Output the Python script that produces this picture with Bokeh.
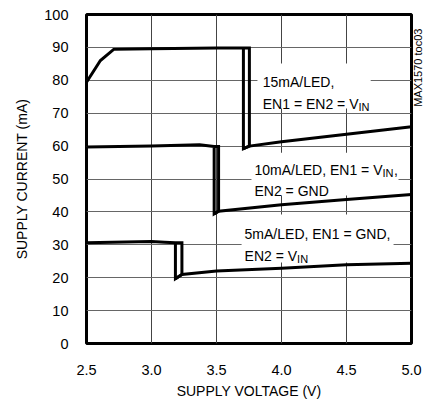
import math
from bokeh.plotting import figure
from bokeh.models import Range1d, FixedTicker, Label, LinearAxis
from bokeh.embed import file_html
from bokeh.resources import INLINE

FONT = "Liberation Sans"

# ---- data ----
x_ticks = [2.5, 3.0, 3.5, 4.0, 4.5, 5.0]
x_tick_labels = ["2.5", "3.0", "3.5", "4.0", "4.5", "5.0"]
y_ticks = [0, 10, 20, 30, 40, 50, 60, 70, 80, 90, 100]

# 15mA/LED
v15_up = [2.5, 2.607, 2.709, 3.0, 3.5, 3.707, 3.753]
i15_up = [79.4, 86.0, 89.4, 89.6, 89.8, 89.8, 89.8]
v15_lo = [3.707, 3.753, 4.0, 4.5, 5.0]
i15_lo = [59.2, 60.0, 61.3, 63.6, 65.9]

# 10mA/LED
v10_up = [2.5, 3.0, 3.37, 3.482, 3.516]
i10_up = [59.7, 60.0, 60.4, 59.9, 59.9]
v10_lo = [3.482, 3.516, 4.0, 4.5, 5.0]
i10_lo = [39.4, 40.2, 42.2, 43.8, 45.3]

# 5mA/LED
v5_up = [2.5, 3.0, 3.1, 3.184, 3.234]
i5_up = [30.6, 31.0, 30.8, 30.6, 30.6]
v5_lo = [3.184, 3.234, 3.5, 4.0, 4.5, 5.0]
i5_lo = [19.7, 21.0, 22.0, 22.9, 23.9, 24.4]

curves = [(v15_up, i15_up, v15_lo, i15_lo),
          (v10_up, i10_up, v10_lo, i10_lo),
          (v5_up, i5_up, v5_lo, i5_lo)]

p = figure(width=433, height=405, output_backend="svg", toolbar_location=None,
           x_range=Range1d(2.5, 5.0), y_range=Range1d(0, 100),
           min_border_left=86, min_border_right=20, min_border_top=14, min_border_bottom=62)
p.background_fill_color = "white"
p.border_fill_color = "white"
p.outline_line_color = "black"
p.outline_line_width = 3

for ax in (p.xaxis[0], p.yaxis[0]):
    ax.axis_line_color = None
    ax.major_tick_line_color = None
    ax.minor_tick_line_color = None
    ax.major_tick_in = 0
    ax.major_tick_out = 0
    ax.major_label_text_font = FONT
    ax.major_label_text_font_size = "14.5px"
    ax.major_label_text_color = "black"
    ax.axis_label_text_font = FONT
    ax.axis_label_text_font_size = "14px"
    ax.axis_label_text_font_style = "normal"
    ax.axis_label_text_color = "black"

p.xaxis.ticker = FixedTicker(ticks=x_ticks)
p.xaxis.major_label_overrides = {t: s for t, s in zip(x_ticks, x_tick_labels)}
p.yaxis.ticker = FixedTicker(ticks=y_ticks)
p.xaxis.axis_label = "SUPPLY VOLTAGE (V)"
p.yaxis.axis_label = "SUPPLY CURRENT (mA)"
p.xaxis.major_label_standoff = 21
p.yaxis.major_label_standoff = 18
p.xaxis.axis_label_standoff = 5
p.yaxis.axis_label_standoff = 11

# figure id text on the right side (as a rotated tick label of a bare axis)
rax = LinearAxis(ticker=FixedTicker(ticks=[89]), major_label_overrides={89: "MAX1570 toc03"})
rax.axis_line_color = None
rax.major_tick_line_color = None
rax.minor_tick_line_color = None
rax.major_tick_in = 0
rax.major_tick_out = 0
rax.major_label_standoff = 7
rax.major_label_orientation = math.pi / 2
rax.major_label_text_font = FONT
rax.major_label_text_font_size = "11px"
rax.major_label_text_color = "black"
p.add_layout(rax, "right")

p.xgrid.grid_line_color = "#444444"
p.ygrid.grid_line_color = "#666666"
p.xgrid.grid_line_width = 1
p.ygrid.grid_line_width = 1

# white boxes behind the annotation blocks (interrupt the grid)
p.quad(left=[3.815, 3.769, 3.693], right=[4.686, 4.90, 4.862],
       top=[85.1, 58.0, 39.2], bottom=[71.4, 45.0, 24.6],
       fill_color="white", line_color=None)

for vu, iu, vl, il in curves:
    # upper branch, drop at high threshold, back at low threshold (hysteresis loop)
    xs_a = vu + [vl[1], vl[0], vu[-2]]
    ys_a = iu + [il[1], il[0], iu[-2]]
    p.line(xs_a, ys_a, line_color="black", line_width=3, line_join="miter")
    p.line(vl, il, line_color="black", line_width=3, line_join="miter")

def lab(x, y, t, size="14px", dx=0, dy=0):
    p.add_layout(Label(x=x, y=y, text=t, text_font=FONT, text_font_size=size,
                       text_color="black", text_baseline="alphabetic",
                       x_offset=dx, y_offset=dy))

lab(3.856, 79.6, "15mA/LED,")
lab(3.856, 72.9, "EN1 = EN2 = V")
lab(3.856, 72.9, "IN", size="11px", dx=95.7, dy=-3)

lab(3.792, 52.6, "10mA/LED, EN1 = V")
lab(3.792, 52.6, "IN", size="11px", dx=128.0, dy=-3)
lab(3.792, 52.6, ",", dx=139.5)
lab(3.792, 46.5, "EN2 = GND")

lab(3.716, 33.4, "5mA/LED, EN1 = GND,")
lab(3.716, 26.7, "EN2 = V")
lab(3.716, 26.7, "IN", size="11px", dx=52.5, dy=-3)

open("out.html", "w").write(file_html(p, INLINE))
